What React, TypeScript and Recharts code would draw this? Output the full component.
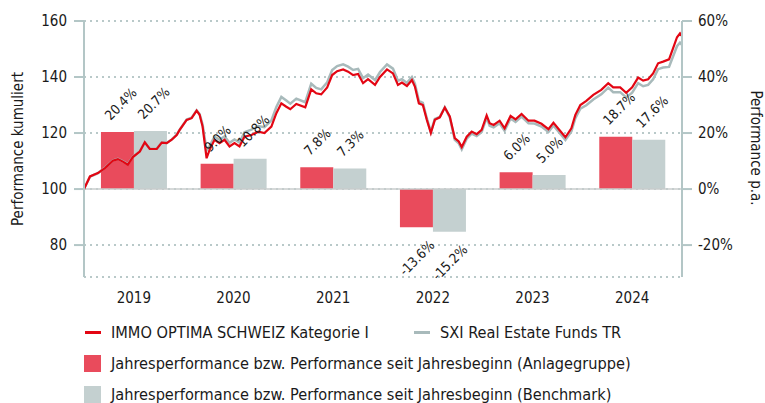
import React from 'react';
import { ComposedChart, Bar, Line, XAxis, YAxis, CartesianGrid, ReferenceLine, LabelList } from 'recharts';

const FONT = "Tahoma, 'DejaVu Sans Condensed', 'Liberation Sans', sans-serif";

// yearly performance (bars, right axis in %)
const years = ['2019', '2020', '2021', '2022', '2023', '2024'];
const fundYearly = [20.4, 9.0, 7.8, -13.6, 6.0, 18.7];
const benchYearly = [20.7, 10.8, 7.3, -15.2, 5.0, 17.6];

// cumulative performance (lines, left axis)
const dates = [
  2019.00, 2019.06, 2019.11, 2019.14, 2019.21, 2019.29, 2019.34, 2019.39, 2019.44, 2019.49,
  2019.56, 2019.61, 2019.66, 2019.73, 2019.78, 2019.83, 2019.88, 2019.93, 2019.96, 2020.03,
  2020.08, 2020.13, 2020.16, 2020.19, 2020.23, 2020.26, 2020.31, 2020.36, 2020.41, 2020.46,
  2020.51, 2020.56, 2020.61, 2020.68, 2020.75, 2020.81, 2020.88, 2020.93, 2020.98, 2021.03,
  2021.07, 2021.13, 2021.22, 2021.28, 2021.33, 2021.38, 2021.44, 2021.49, 2021.54, 2021.60,
  2021.65, 2021.70, 2021.75, 2021.80, 2021.85, 2021.92, 2021.97, 2022.04, 2022.10, 2022.15,
  2022.19, 2022.24, 2022.29, 2022.32, 2022.36, 2022.40, 2022.44, 2022.48, 2022.52, 2022.57,
  2022.62, 2022.67, 2022.72, 2022.76, 2022.79, 2022.84, 2022.89, 2022.94, 2022.99, 2023.04,
  2023.07, 2023.11, 2023.17, 2023.22, 2023.28, 2023.33, 2023.39, 2023.46, 2023.52, 2023.59,
  2023.66, 2023.71, 2023.77, 2023.83, 2023.89, 2023.93, 2023.98, 2024.04, 2024.11, 2024.19,
  2024.26, 2024.31, 2024.38, 2024.44, 2024.50, 2024.56, 2024.61, 2024.66, 2024.71, 2024.76,
  2024.81, 2024.87, 2024.91, 2024.95, 2024.98, 2025.00,
];
const fundIndex = [
  100.0, 104.5, 105.3, 105.7, 107.5, 110.1, 110.7, 109.8, 108.7, 111.4,
  113.4, 116.7, 114.3, 114.3, 116.6, 116.4, 117.6, 119.3, 121.1, 124.7,
  125.3, 128.0, 126.5, 122.3, 111.0, 114.0, 117.6, 116.4, 117.6, 115.2,
  116.4, 115.2, 118.7, 119.3, 120.5, 120.0, 122.3, 127.1, 130.6, 129.4,
  128.5, 130.4, 129.2, 135.6, 134.2, 133.8, 136.3, 140.7, 142.1, 142.7,
  141.9, 140.7, 141.1, 137.8, 139.2, 137.2, 140.0, 142.7, 141.3, 137.2,
  138.0, 136.8, 138.9, 136.6, 130.6, 130.0, 124.7, 120.0, 124.7, 125.6,
  129.1, 125.9, 118.2, 117.0, 115.0, 118.7, 120.5, 119.6, 121.1, 126.3,
  123.5, 122.9, 124.4, 121.7, 126.1, 124.9, 126.8, 124.4, 124.4, 123.3,
  121.4, 123.7, 121.1, 118.5, 121.7, 126.5, 130.0, 131.5, 133.6, 135.4,
  137.8, 136.3, 136.3, 134.4, 136.3, 139.8, 138.7, 139.2, 141.3, 144.9,
  145.5, 146.3, 150.2, 154.2, 155.6, 154.6,
];
const benchIndex = [
  100.0, 104.4, 105.2, 105.7, 107.6, 110.2, 110.8, 109.9, 108.9, 111.5,
  113.5, 116.6, 114.4, 114.5, 116.7, 116.5, 117.7, 119.4, 121.2, 124.8,
  125.5, 128.1, 126.8, 123.0, 113.8, 115.4, 118.7, 117.6, 118.8, 116.5,
  117.7, 116.6, 120.3, 121.2, 122.5, 122.1, 124.5, 129.3, 132.9, 131.6,
  130.5, 132.3, 131.0, 137.6, 136.1, 135.6, 138.1, 142.5, 143.9, 144.5,
  143.7, 142.5, 142.9, 139.6, 140.9, 138.9, 141.8, 144.5, 143.0, 138.7,
  139.2, 137.9, 140.0, 137.6, 131.5, 130.8, 125.2, 120.4, 125.0, 125.8,
  129.2, 125.6, 117.6, 116.3, 114.2, 118.0, 119.8, 118.9, 120.4, 125.5,
  122.6, 122.0, 123.5, 120.8, 125.2, 124.0, 125.9, 123.5, 123.4, 122.3,
  120.4, 122.7, 120.1, 117.5, 120.6, 125.3, 128.7, 129.9, 132.0, 133.8,
  136.2, 134.6, 134.6, 132.7, 134.4, 137.8, 136.7, 137.2, 139.2, 142.8,
  143.4, 143.6, 147.3, 151.0, 152.3, 151.5,
];

const leftTicks = [80, 100, 120, 140, 160];
const rightTicks = [-20, 0, 20, 40, 60];
const yearBounds = [2019, 2020, 2021, 2022, 2023, 2024, 2025];

const barData = years.map((year, i) => ({ year, fund: fundYearly[i], bench: benchYearly[i] }));
const lineData = dates.map((t, i) => ({ t, fund: fundIndex[i], bench: benchIndex[i] }));

const RED_LINE = '#e30613';
const GREY_LINE = '#a8babb';
const RED_BAR = '#e94b5c';
const GREY_BAR = '#c4d0d0';
const AXIS = '#b3c6c6';
const TEXT = '#1a1a1a';

const BarLabel = (props: any) => {
  const { x, y, width, height, value } = props;
  const cx = x + width / 2;
  const label = `${Number(value).toFixed(1)}%`;
  if (value >= 0) {
    const top = Math.min(y, y + height);
    const ax = cx - 7;
    const ay = top - 11;
    return (
      <text x={ax} y={ay} transform={`rotate(-45 ${ax} ${ay})`} textAnchor="start"
        fontSize={13.5} fontFamily={FONT} fill={TEXT}>{label}</text>
    );
  }
  const bottom = Math.max(y, y + height);
  const ax = cx + 19;
  const ay = bottom + 19;
  return (
    <text x={ax} y={ay} transform={`rotate(-45 ${ax} ${ay})`} textAnchor="end"
      fontSize={13.5} fontFamily={FONT} fill={TEXT}>{label}</text>
  );
};

const LeftTitle = () => (
  <text x={18} y={149} transform="rotate(-90 18 149)" textAnchor="middle" dominantBaseline="central"
    fontSize={15} fontFamily={FONT} fill={TEXT}>Performance kumuliert</text>
);

const RightTitle = () => (
  <text x={756} y={148} transform="rotate(90 756 148)" textAnchor="middle" dominantBaseline="central"
    fontSize={15} fontFamily={FONT} fill={TEXT}>Performance p.a.</text>
);

const legendRow = (top: number, icon: React.ReactNode, text: string, left: number) => (
  <div style={{ position: 'absolute', top: top - 10, left, height: 20, display: 'flex', alignItems: 'center', whiteSpace: 'nowrap' }}>
    {icon}
    <span style={{ marginLeft: 10 }}>{text}</span>
  </div>
);

const ChartLegend = () => (
  <div style={{ position: 'absolute', left: 0, top: 0, width: 765, height: 403, fontFamily: FONT, fontSize: 16.2, color: TEXT, pointerEvents: 'none' }}>
    {legendRow(332, <span style={{ width: 16, height: 3, background: RED_LINE, display: 'inline-block' }} />, 'IMMO OPTIMA SCHWEIZ Kategorie I', 85)}
    {legendRow(332, <span style={{ width: 16, height: 3, background: GREY_LINE, display: 'inline-block' }} />, 'SXI Real Estate Funds TR', 414)}
    {legendRow(363, <span style={{ width: 17, height: 17, background: RED_BAR, display: 'inline-block' }} />, 'Jahresperformance bzw. Performance seit Jahresbeginn (Anlagegruppe)', 84)}
    {legendRow(394, <span style={{ width: 17, height: 17, background: GREY_BAR, display: 'inline-block' }} />, 'Jahresperformance bzw. Performance seit Jahresbeginn (Benchmark)', 84)}
  </div>
);

const App: React.FC = () => {
  const tickStyle = { fill: TEXT, fontSize: 15, fontFamily: FONT };
  return (
    <div style={{ position: 'absolute', left: 0, top: 0, width: 765, height: 403, background: '#fff' }}>
      <ComposedChart width={765} height={403} data={barData}
        margin={{ top: 21, right: 0, bottom: 96, left: 0 }} barCategoryGap="17%" barGap={0}>
        <CartesianGrid yAxisId="left" vertical={false} stroke="#a3b8b8" strokeDasharray="2 4" strokeWidth={1.5} />
        <XAxis xAxisId="t" type="number" dataKey="t" domain={[2019, 2025]} ticks={yearBounds}
          height={0} tick={false} tickSize={10} stroke={AXIS} strokeWidth={2} allowDataOverflow />
        <XAxis xAxisId="cat" dataKey="year" height={30} axisLine={false} tickLine={false}
          tickSize={10} tickMargin={5} tick={tickStyle} />
        <YAxis yAxisId="left" domain={[68.6, 160]} ticks={leftTicks} width={84} tickSize={10} tickMargin={7}
          stroke={AXIS} strokeWidth={2} tick={tickStyle} allowDataOverflow label={<LeftTitle />} />
        <YAxis yAxisId="right" orientation="right" domain={[-31.4, 60]} ticks={rightTicks} width={83}
          tickSize={10} tickMargin={6} stroke={AXIS} strokeWidth={2} tick={tickStyle}
          tickFormatter={(v) => `${v}%`} allowDataOverflow label={<RightTitle />} />
        <ReferenceLine yAxisId="left" xAxisId="t" y={100} stroke="#c9cccc" strokeWidth={1.5} />
        <Bar xAxisId="cat" yAxisId="right" dataKey="fund" fill={RED_BAR} isAnimationActive={false}>
          <LabelList dataKey="fund" content={<BarLabel />} />
        </Bar>
        <Bar xAxisId="cat" yAxisId="right" dataKey="bench" fill={GREY_BAR} isAnimationActive={false}>
          <LabelList dataKey="bench" content={<BarLabel />} />
        </Bar>
        <Line xAxisId="t" yAxisId="left" data={lineData} dataKey="bench" type="linear" stroke={GREY_LINE}
          strokeWidth={2.5} dot={false} isAnimationActive={false} />
        <Line xAxisId="t" yAxisId="left" data={lineData} dataKey="fund" type="linear" stroke={RED_LINE}
          strokeWidth={2.2} dot={false} isAnimationActive={false} />
      </ComposedChart>
      <ChartLegend />
    </div>
  );
};

export default App;
